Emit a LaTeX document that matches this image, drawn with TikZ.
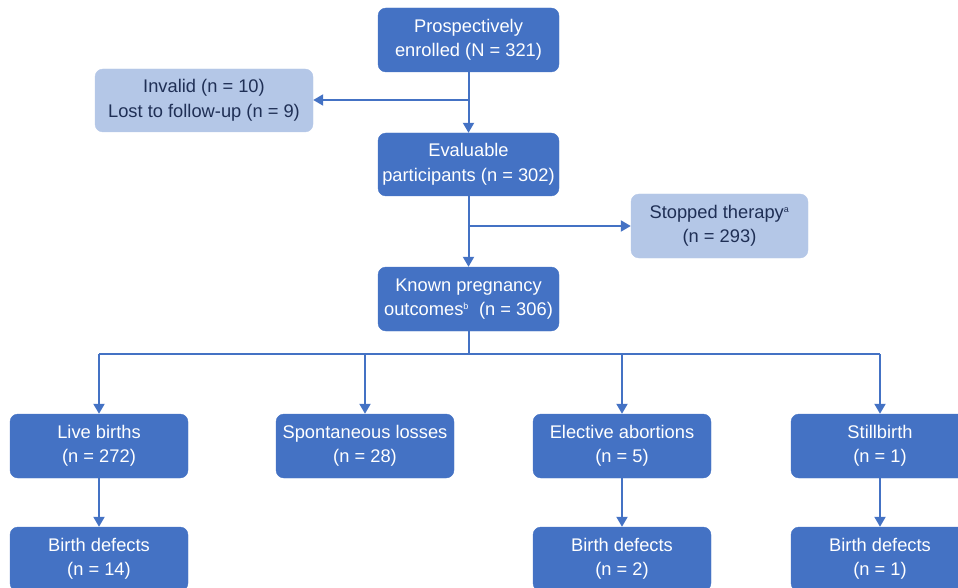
\documentclass[tikz,border=0pt]{standalone}
\usepackage{fontspec}
\setmainfont{Liberation Sans}
\usetikzlibrary{arrows.meta}
\definecolor{dblue}{HTML}{4472C4}
\definecolor{lblue}{HTML}{B4C7E7}
\definecolor{navy}{HTML}{1F2F55}
\tikzset{
  box/.style={rounded corners=8pt, minimum width=178pt, minimum height=63pt, align=center,
    font=\fontsize{18.3pt}{24.5pt}\selectfont, inner sep=0pt},
  darkbox/.style={box, fill=dblue, draw=dblue, text=white},
  lightbox/.style={box, fill=lblue, draw=lblue, text=navy},
  conn/.style={draw=dblue, line width=2pt},
  arr/.style={conn, -{Triangle[width=11pt,length=10pt]}}
}
\begin{document}
\begin{tikzpicture}[x=1pt,y=-1pt]
\useasboundingbox (0,0) rectangle (958,588);
\clip (0,0) rectangle (958,588);
\node[darkbox, minimum width=181pt, minimum height=64pt] (enr) at (468.5,40) {Prospectively\\enrolled (N = 321)};
\node[lightbox, minimum width=218pt, minimum height=63pt] (inv) at (204,100.5) {Invalid (n = 10)\\Lost to follow-up (n = 9)};
\node[darkbox, minimum width=181pt] (eval) at (468.5,164.5) {Evaluable\\participants (n = 302)};
\node[lightbox, minimum width=177pt, minimum height=64pt] (stop) at (719.5,226) {Stopped therapy\textsuperscript{\fontsize{9pt}{10pt}\selectfont a}\\(n = 293)};
\node[darkbox, minimum width=181pt, minimum height=64pt] (known) at (468.5,299) {Known pregnancy\\outcomes\textsuperscript{\fontsize{9pt}{10pt}\selectfont b}\ \ (n = 306)};
\node[darkbox, minimum height=64pt] (live) at (99,446) {Live births\\(n = 272)};
\node[darkbox, minimum height=64pt] (spon) at (365,446) {Spontaneous losses\\(n = 28)};
\node[darkbox, minimum height=64pt] (elec) at (622,446) {Elective abortions\\(n = 5)};
\node[darkbox, minimum height=64pt] (still) at (880,446) {Stillbirth\\(n = 1)};
\node[darkbox, minimum height=64pt] (bd1) at (99,559) {Birth defects\\(n = 14)};
\node[darkbox, minimum height=64pt] (bd2) at (622,559) {Birth defects\\(n = 2)};
\node[darkbox, minimum height=64pt] (bd3) at (880,559) {Birth defects\\(n = 1)};
\coordinate (j1) at (468.5,100);
\coordinate (j2) at (468.5,226);
\coordinate (j3) at (468.5,354);
\draw[arr] (enr.south) -- (eval.north);
\draw[arr] (j1) -- (j1 -| inv.east);
\draw[arr] (eval.south) -- (known.north);
\draw[arr] (j2) -- (j2 -| stop.west);
\draw[conn] (known.south) -- (j3);
\draw[conn] (live.north |- j3) -- (still.north |- j3);
\draw[arr] (live.north |- j3) -- (live.north);
\draw[arr] (spon.north |- j3) -- (spon.north);
\draw[arr] (elec.north |- j3) -- (elec.north);
\draw[arr] (still.north |- j3) -- (still.north);
\draw[arr] (live.south) -- (bd1.north);
\draw[arr] (elec.south) -- (bd2.north);
\draw[arr] (still.south) -- (bd3.north);
\end{tikzpicture}
\end{document}
